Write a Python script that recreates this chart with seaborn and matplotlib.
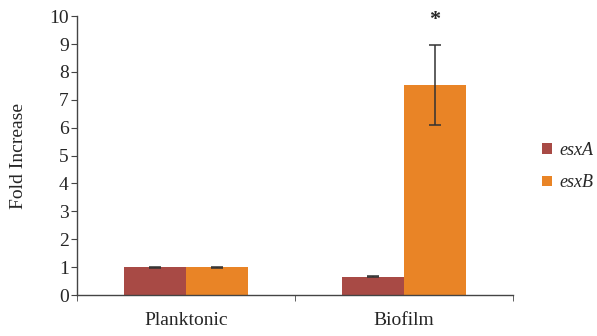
import pandas as pd
import matplotlib.pyplot as plt
import seaborn as sns
from matplotlib.ticker import FixedLocator

# data
conditions = ["Planktonic", "Biofilm"]
genes = ["esxA", "esxB"]
esxA_vals = [1.0, 0.65]
esxB_vals = [1.0, 7.53]
esxA_err = [0.02, 0.02]
esxB_err = [0.02, 1.43]

df = pd.DataFrame({
    "Condition": conditions * 2,
    "Gene": [genes[0]] * 2 + [genes[1]] * 2,
    "Fold": esxA_vals + esxB_vals,
    "Err": esxA_err + esxB_err,
})

sns.set_style("white")
plt.rcParams["font.family"] = ["Liberation Serif", "DejaVu Serif"]

fig = plt.figure(figsize=(5.97, 3.36), dpi=100)
ax = fig.add_axes([0.129, 0.122, 0.73, 0.83])

palette = {"esxA": "#A84A45", "esxB": "#E98426"}
sns.barplot(data=df, x="Condition", y="Fold", hue="Gene", palette=palette,
            errorbar=None, width=0.57, saturation=1, linewidth=0, ax=ax)

# error bars on each bar
for cont, gene in zip(ax.containers, genes):
    sub = df[df["Gene"] == gene]
    xs = [p.get_x() + p.get_width() / 2 for p in cont.patches]
    ax.errorbar(xs, sub["Fold"], yerr=sub["Err"], fmt="none",
                ecolor="#333333", elinewidth=1.1, capsize=4, capthick=1.1)

# significance marker
bio_b = ax.containers[1].patches[1]
ax.text(bio_b.get_x() + bio_b.get_width() / 2, 9.85, "*", ha="center",
        va="center", fontsize=16, fontweight="bold")

ax.set_ylim(0, 10)
ax.set_xlim(-0.5, 1.5)
ax.set_yticks(range(0, 11))
ax.tick_params(axis="y", labelsize=14, length=4, direction="out", left=True,
               color="#444444", pad=2)
ax.tick_params(axis="x", labelsize=14, length=0, pad=12)
ax.xaxis.set_minor_locator(FixedLocator([-0.5, 0.5, 1.5]))
ax.tick_params(axis="x", which="minor", length=4, bottom=True,
               direction="out", color="#444444")
ax.set_xlabel("")
ax.set_ylabel("Fold Increase", fontsize=14, labelpad=16)

for side in ["top", "right"]:
    ax.spines[side].set_visible(False)
for side in ["left", "bottom"]:
    ax.spines[side].set_color("#444444")
    ax.spines[side].set_linewidth(1)

leg = ax.legend(loc="center left", bbox_to_anchor=(1.03, 0.46), frameon=False,
                prop={"style": "italic", "size": 13}, handlelength=0.55,
                handleheight=0.55, handletextpad=0.4, labelspacing=0.85)

fig.savefig("out.png", dpi=100)
